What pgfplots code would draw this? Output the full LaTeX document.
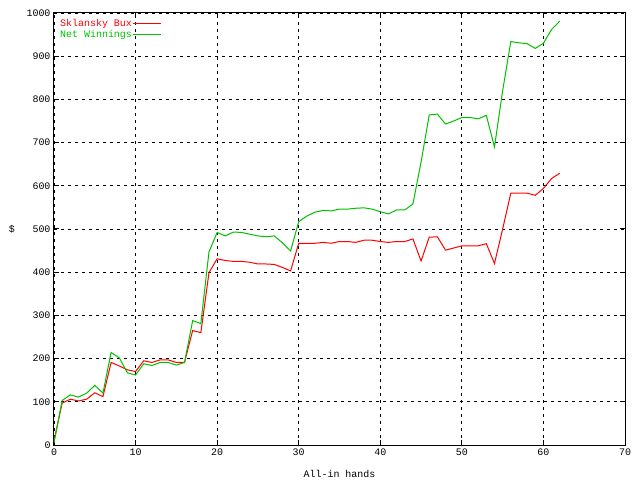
\documentclass[border=0pt]{standalone}
\usepackage{fontspec}
\setmainfont{Liberation Mono}
\usepackage{pgfplots}
\pgfplotsset{compat=1.18}
\definecolor{gpred}{RGB}{255,0,0}
\definecolor{gpgreen}{RGB}{0,192,0}

\pgfplotstableread{
x y
0 10
1 97
2 106
3 102
4 106
5 121
6 112
7 191
8 183
9 174
10 170
11 195
12 191
13 197
14 197
15 191
16 191
17 265
18 260
19 399
20 431
21 427
22 425
23 425
24 423
25 419
26 419
27 418
28 411
29 403
30 467
31 467
32 467
33 469
34 467
35 471
36 471
37 469
38 474
39 474
40 471
41 469
42 471
43 471
44 477
45 426
46 481
47 482
48 451
49 456
50 461
51 461
52 461
53 466
54 420
55 500
56 583
57 583
58 583
59 578
60 594
61 617
62 629
}\buxtable

\pgfplotstableread{
x y
0 5
1 103
2 116
3 111
4 120
5 138
6 120
7 214
8 202
9 167
10 162
11 188
12 184
13 191
14 191
15 185
16 191
17 288
18 281
19 447
20 492
21 484
22 493
23 492
24 488
25 484
26 482
27 484
28 468
29 449
30 517
31 530
32 539
33 543
34 542
35 546
36 546
37 548
38 549
39 546
40 540
41 535
42 544
43 544
44 558
45 655
46 764
47 766
48 743
49 750
50 758
51 758
52 755
53 763
54 690
55 820
56 934
57 931
58 929
59 918
60 930
61 962
62 981
}\wintable

\begin{document}
\begin{tikzpicture}
\begin{axis}[
  name=main,
  scale only axis, width=571bp, height=432bp,
  xmin=0, xmax=70, ymin=0, ymax=1000,
  xtick distance=10, ytick distance=100,
  grid=major,
  grid style={black, line width=0.8bp, dash pattern=on 3bp off 4bp},
  axis line style={line width=1bp},
  tick style={black, line width=1bp},
  major tick length=5bp,
  tick align=inside,
  font=\fontsize{10}{12}\selectfont,
  /pgf/number format/assume math mode=true,
  /pgf/number format/1000 sep={},
  xlabel={All-in hands},
  ylabel={\$},
  xlabel style={at={(axis description cs:0.5,0)}, anchor=center, yshift=-29bp},
  ylabel style={at={(axis description cs:-0.0736,0.5)}, anchor=center, rotate=-90},
  legend style={draw=none, fill=none, at={(axis description cs:0,1)}, anchor=north west,
    xshift=2bp, yshift=-3bp, row sep=0bp, nodes={inner sep=1bp},
    font=\fontsize{10}{12}\selectfont},
  legend cell align=right,
  legend plot pos=right,
  legend image code/.code={\draw[#1] (5bp,0bp) -- (33bp,0bp);},
]
\addplot[gpred, line width=1bp, sharp plot, mark=none] table[x=x,y=y] {\buxtable};
\addlegendentry{\textcolor{gpred}{Sklansky Bux}}
\addplot[gpgreen, line width=1bp, sharp plot, mark=none] table[x=x,y=y] {\wintable};
\addlegendentry{\textcolor{gpgreen}{Net Winnings}}
\end{axis}
\pgfresetboundingbox
\path ([shift={(-54bp,-35bp)}]main.south west) rectangle ([shift={(15bp,13bp)}]main.north east);
\end{tikzpicture}
\end{document}
